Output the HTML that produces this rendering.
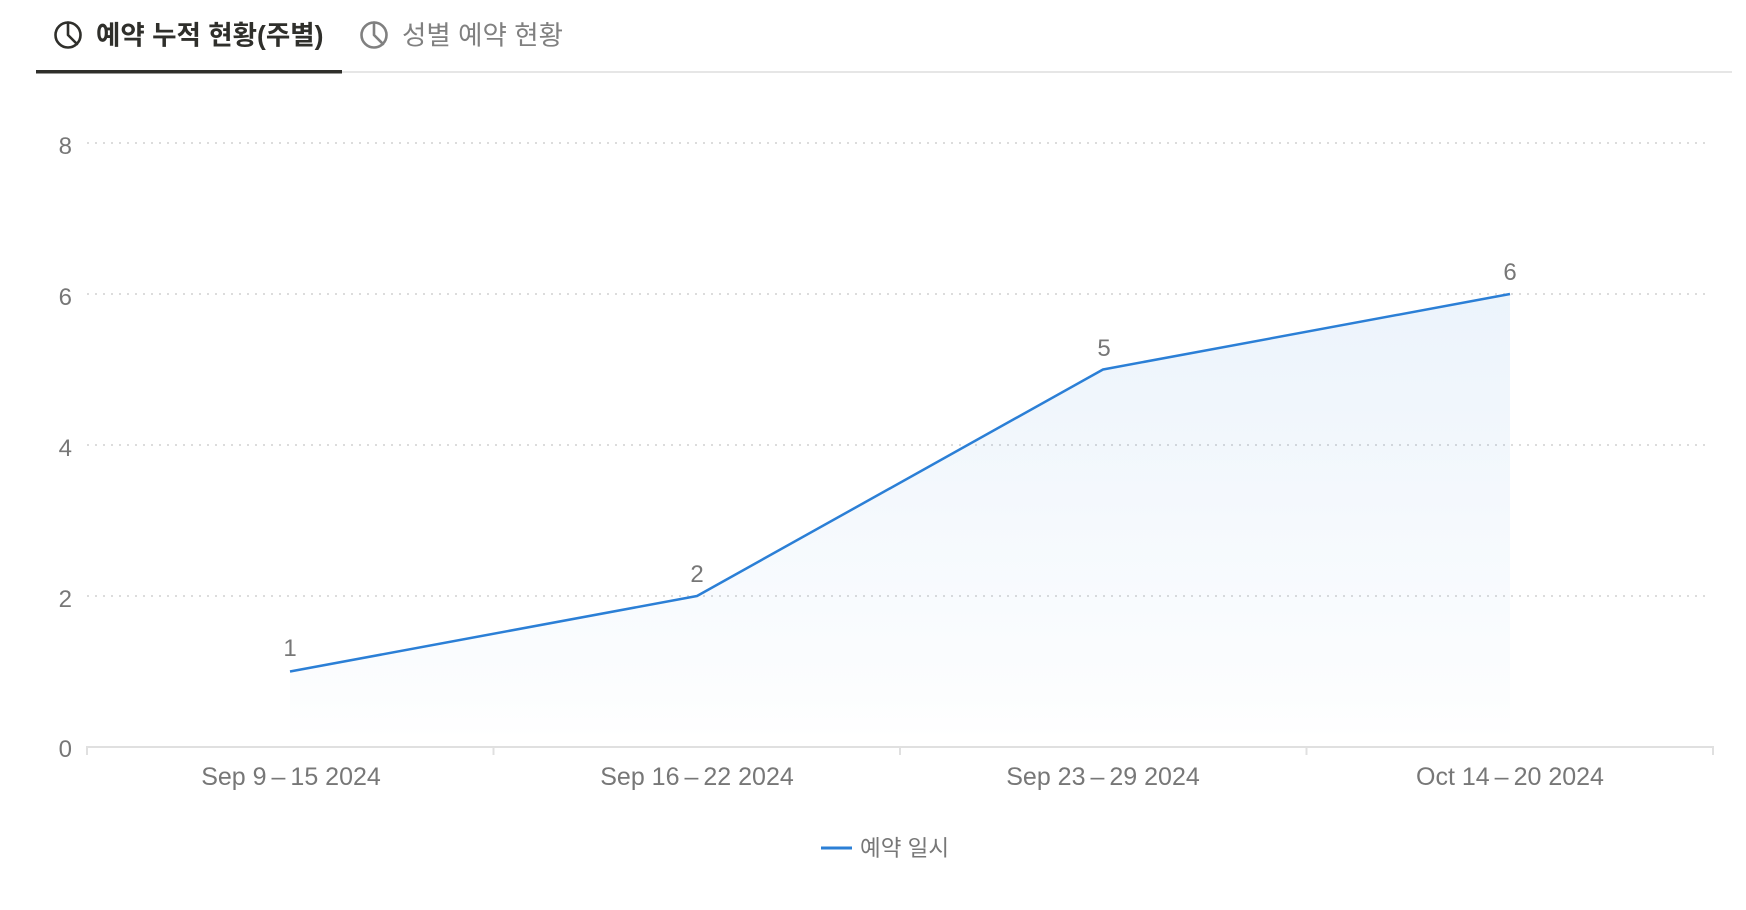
<!DOCTYPE html>
<html>
<head>
<meta charset="utf-8">
<style>
  html, body { margin:0; padding:0; background:#ffffff; }
  body { width:1746px; height:910px; overflow:hidden; }
  svg { display:block; }
  .tab { font-family:"Liberation Sans","Noto Sans CJK KR",sans-serif; font-size:26.5px; }
  .tick { font-family:"Liberation Sans","Noto Sans CJK KR",sans-serif; font-size:24px; fill:#777777; }
  .leg { font-family:"Liberation Sans","Noto Sans CJK KR",sans-serif; font-size:22.5px; fill:#777777; }
</style>
</head>
<body>
<svg width="1746" height="910" viewBox="0 0 1746 910" xmlns="http://www.w3.org/2000/svg">
  <defs>
    <linearGradient id="areaGrad" gradientUnits="userSpaceOnUse" x1="0" y1="294" x2="0" y2="740">
      <stop offset="0" stop-color="#2b7fd6" stop-opacity="0.09"/>
      <stop offset="0.9" stop-color="#2b7fd6" stop-opacity="0.015"/>
      <stop offset="1" stop-color="#2b7fd6" stop-opacity="0"/>
    </linearGradient>
  </defs>

  <!-- Tabs -->
  <g fill="none" stroke="#2f2f2b" stroke-width="2.6" stroke-linecap="round" stroke-linejoin="round">
    <circle cx="68" cy="35" r="12.5"/>
    <polyline points="68,22.5 68,35 77,44"/>
  </g>
  <text class="tab" x="96" y="44.5" fill="#2f2f2b" font-weight="bold">예약 누적 현황(주별)</text>

  <g fill="none" stroke="#808080" stroke-width="2.6" stroke-linecap="round" stroke-linejoin="round">
    <circle cx="374" cy="35" r="12.5"/>
    <polyline points="374,22.5 374,35 383,44"/>
  </g>
  <text class="tab" x="402" y="44.5" fill="#808080">성별 예약 현황</text>

  <rect x="342" y="71" width="1390" height="2" fill="#e6e6e6"/>
  <rect x="36" y="70" width="306" height="3.5" fill="#2f2f2b"/>

  <!-- Gridlines (dotted) -->
  <g stroke="#dcdcdc" stroke-width="2" stroke-dasharray="2 6">
    <line x1="87" y1="143" x2="1706" y2="143"/>
    <line x1="87" y1="294" x2="1706" y2="294"/>
    <line x1="87" y1="445" x2="1706" y2="445"/>
    <line x1="87" y1="596" x2="1706" y2="596"/>
  </g>

  <!-- Y labels -->
  <g class="tick" text-anchor="end">
    <text x="72" y="154">8</text>
    <text x="72" y="305">6</text>
    <text x="72" y="456">4</text>
    <text x="72" y="607">2</text>
    <text x="72" y="757">0</text>
  </g>

  <!-- Area -->
  <path d="M290,671.5 L697,596 L1103,369.5 L1510,294 L1510,745 L290,745 Z" fill="url(#areaGrad)"/>

  <!-- X axis -->
  <g stroke="#e0e0e0" stroke-width="2">
    <line x1="87" y1="747" x2="1713" y2="747"/>
    <line x1="87" y1="746" x2="87" y2="755"/>
    <line x1="493.5" y1="746" x2="493.5" y2="755"/>
    <line x1="900" y1="746" x2="900" y2="755"/>
    <line x1="1306.5" y1="746" x2="1306.5" y2="755"/>
    <line x1="1713" y1="746" x2="1713" y2="755"/>
  </g>

  <!-- Line -->
  <polyline points="290,671.5 697,596 1103,369.5 1510,294" fill="none" stroke="#2b7fd6" stroke-width="2.5" stroke-linejoin="round"/>

  <!-- Data labels -->
  <g class="tick" text-anchor="middle">
    <text x="290" y="656">1</text>
    <text x="697" y="582">2</text>
    <text x="1104" y="356">5</text>
    <text x="1510" y="280">6</text>
  </g>

  <!-- X labels -->
  <g class="tick" text-anchor="middle" style="font-size:25px">
    <text x="291" y="785">Sep 9&#8201;&#8211;&#8201;15 2024</text>
    <text x="697" y="785">Sep 16&#8201;&#8211;&#8201;22 2024</text>
    <text x="1103" y="785">Sep 23&#8201;&#8211;&#8201;29 2024</text>
    <text x="1510" y="785">Oct 14&#8201;&#8211;&#8201;20 2024</text>
  </g>

  <!-- Legend -->
  <line x1="821" y1="848" x2="852" y2="848" stroke="#2b7fd6" stroke-width="3"/>
  <text class="leg" x="860" y="856">예약 일시</text>
</svg>
</body>
</html>
